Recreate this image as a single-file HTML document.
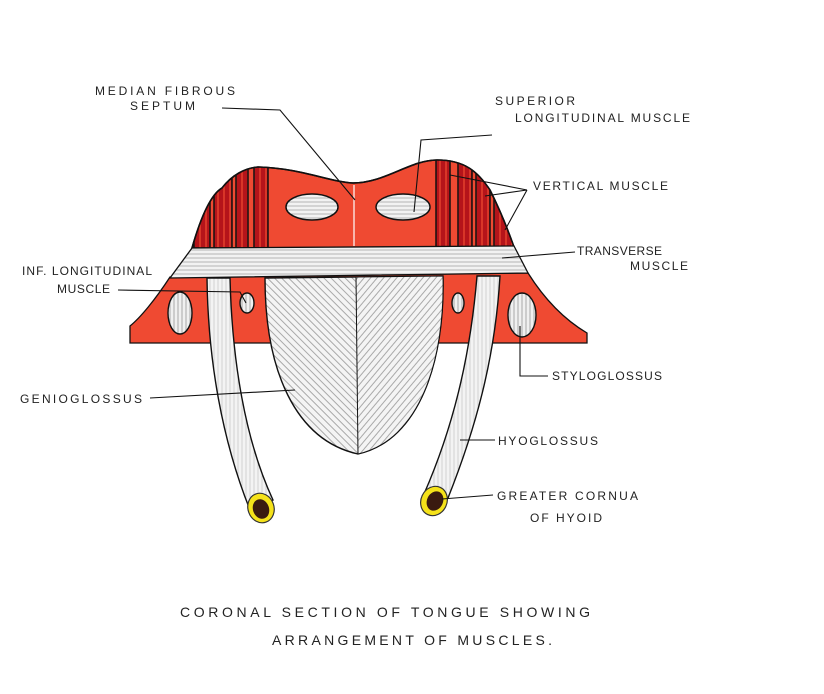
<!DOCTYPE html>
<html><head><meta charset="utf-8"><style>
html,body{margin:0;padding:0;background:#fff;}
svg{display:block;}
text{font-family:"Liberation Sans",sans-serif;fill:#222;font-size:12px;}
</style></head><body>
<svg width="824" height="694" viewBox="0 0 824 694" xmlns="http://www.w3.org/2000/svg">
<defs>
<pattern id="hz" width="6" height="4" patternUnits="userSpaceOnUse"><rect width="6" height="4" fill="#f2f2f2"/><line x1="0" y1="2" x2="6" y2="2" stroke="#999" stroke-width="0.7"/></pattern>
<pattern id="vt" width="4" height="6" patternUnits="userSpaceOnUse"><rect width="4" height="6" fill="#f0f0f0"/><line x1="2" y1="0" x2="2" y2="6" stroke="#888" stroke-width="0.7"/></pattern>
<pattern id="dl" width="5" height="5" patternUnits="userSpaceOnUse" patternTransform="rotate(45)"><rect width="5" height="5" fill="#f4f4f4"/><line x1="0" y1="2.5" x2="5" y2="2.5" stroke="#777" stroke-width="0.6"/></pattern>
<pattern id="dr" width="5" height="5" patternUnits="userSpaceOnUse" patternTransform="rotate(-50)"><rect width="5" height="5" fill="#f4f4f4"/><line x1="0" y1="2.5" x2="5" y2="2.5" stroke="#777" stroke-width="0.6"/></pattern>
<pattern id="hy" width="4" height="6" patternUnits="userSpaceOnUse"><rect width="4" height="6" fill="#f3f3f3"/><line x1="2" y1="0" x2="2" y2="6" stroke="#bbb" stroke-width="0.6"/></pattern>
<pattern id="vm" width="6" height="6" patternUnits="userSpaceOnUse"><rect width="6" height="6" fill="#b5141a"/><line x1="2" y1="0" x2="2" y2="6" stroke="#e8452e" stroke-width="1.4"/></pattern>
<clipPath id="body"><path d="M192,248 C200,220 210,195 222,188 C232,175 245,168 258,167 C300,168 330,182 353,183 C385,183 410,160 437,160 C465,160 478,172 490,190 C500,210 508,230 514,247 Z"/></clipPath>
</defs>

<path d="M170,277 C155,300 140,318 130,326 L130,343 L587,343 L587,333 C565,320 545,300 528,273 Z" fill="#ef4a32" stroke="#111" stroke-width="1.3"/>
<path d="M192,248 C200,220 210,195 222,188 C232,175 245,168 258,167 C300,168 330,182 353,183 C385,183 410,160 437,160 C465,160 478,172 490,190 C500,210 508,230 514,247 Z" fill="#ef4a32" stroke="#111" stroke-width="1.5"/>
<g stroke="#111" stroke-width="1.5" clip-path="url(#body)">
<rect x="194" y="150" width="16" height="98" fill="url(#vm)"/>
<rect x="214" y="150" width="18" height="98" fill="url(#vm)"/>
<rect x="236" y="150" width="12" height="98" fill="url(#vm)"/>
<rect x="254" y="150" width="14" height="98" fill="url(#vm)"/>
<rect x="436" y="150" width="14" height="98" fill="url(#vm)"/>
<rect x="458" y="150" width="14" height="98" fill="url(#vm)"/>
<rect x="476" y="150" width="14" height="98" fill="url(#vm)"/>
<rect x="494" y="150" width="22" height="98" fill="url(#vm)"/>
</g>
<path d="M192,248 C200,220 210,195 222,188 C232,175 245,168 258,167 C300,168 330,182 353,183 C385,183 410,160 437,160 C465,160 478,172 490,190 C500,210 508,230 514,247" fill="none" stroke="#111" stroke-width="1.6"/>
<line x1="354" y1="185" x2="354" y2="246" stroke="#fff" stroke-width="1.2"/>
<ellipse cx="312" cy="207" rx="26" ry="13" fill="url(#hz)" stroke="#111" stroke-width="1.5"/>
<ellipse cx="403" cy="207" rx="27" ry="13" fill="url(#hz)" stroke="#111" stroke-width="1.5"/>
<path d="M192,248 L514,246 L528,273 L170,278 Z" fill="url(#hz)" stroke="#111" stroke-width="1.3"/>
<path d="M265,278 L443,276 C445,360 420,440 358,454 C295,440 265,370 265,278 Z" fill="url(#dl)" stroke="#111" stroke-width="1.4"/>
<path d="M356,277 L443,276 C445,360 420,440 358,454 Z" fill="url(#dr)" stroke="#111" stroke-width="1"/>
<ellipse cx="180" cy="313" rx="12" ry="21" fill="url(#vt)" stroke="#111" stroke-width="1.4"/>
<ellipse cx="247" cy="303" rx="7" ry="10" fill="url(#vt)" stroke="#111" stroke-width="1.4"/>
<ellipse cx="458" cy="303" rx="6" ry="10" fill="url(#vt)" stroke="#111" stroke-width="1.4"/>
<ellipse cx="522" cy="315" rx="14" ry="22" fill="url(#vt)" stroke="#111" stroke-width="1.4"/>
<path d="M207,278 L230,278 C232,360 245,440 273,500 L250,510 C222,440 208,360 207,278 Z" fill="url(#hy)" stroke="#111" stroke-width="1.4"/>
<path d="M477,276 L500,276 C495,360 475,430 448,498 L424,494 C452,430 470,360 477,276 Z" fill="url(#hy)" stroke="#111" stroke-width="1.4"/>
<ellipse cx="261" cy="508" rx="13" ry="15" transform="rotate(-20 261 508)" fill="#f5e21a" stroke="#333" stroke-width="1.2"/>
<ellipse cx="261" cy="509" rx="8" ry="10" transform="rotate(-20 261 509)" fill="#3a1a10"/>
<ellipse cx="434" cy="501" rx="13" ry="15" transform="rotate(25 434 501)" fill="#f5e21a" stroke="#333" stroke-width="1.2"/>
<ellipse cx="435" cy="501" rx="8" ry="10" transform="rotate(25 435 501)" fill="#3a1a10"/>

<g stroke="#111" stroke-width="1.1" fill="none">
<path d="M222,108 L280,110 L355,200"/>
<path d="M492,135 L421,140 L414,212"/>
<path d="M527,190 L450,175 M527,190 L485,196 M527,190 L505,230"/>
<path d="M575,252 L502,258"/>
<path d="M118,290 L240,292 L246,303"/>
<path d="M150,398 L295,390"/>
<path d="M548,376 L520,376 L520,326"/>
<path d="M495,440 L460,440"/>
<path d="M493,495 L442,499"/>
</g>

<text x="95" y="95" textLength="140">MEDIAN FIBROUS</text>
<text x="130" y="110" textLength="65">SEPTUM</text>
<text x="495" y="105" textLength="80">SUPERIOR</text>
<text x="515" y="122" textLength="175">LONGITUDINAL MUSCLE</text>
<text x="533" y="190" textLength="135">VERTICAL MUSCLE</text>
<text x="577" y="255" textLength="85">TRANSVERSE</text>
<text x="630" y="270" textLength="58">MUSCLE</text>
<text x="22" y="275" textLength="130">INF. LONGITUDINAL</text>
<text x="57" y="293" textLength="53">MUSCLE</text>
<text x="20" y="403" textLength="122">GENIOGLOSSUS</text>
<text x="552" y="380" textLength="110">STYLOGLOSSUS</text>
<text x="498" y="445" textLength="100">HYOGLOSSUS</text>
<text x="497" y="500" textLength="141">GREATER CORNUA</text>
<text x="530" y="522" textLength="72">OF HYOID</text>
<text x="180" y="617" textLength="410" style="font-size:14px">CORONAL  SECTION  OF  TONGUE  SHOWING</text>
<text x="272" y="645" textLength="280" style="font-size:14px">ARRANGEMENT  OF  MUSCLES.</text>
</svg>
</body></html>
